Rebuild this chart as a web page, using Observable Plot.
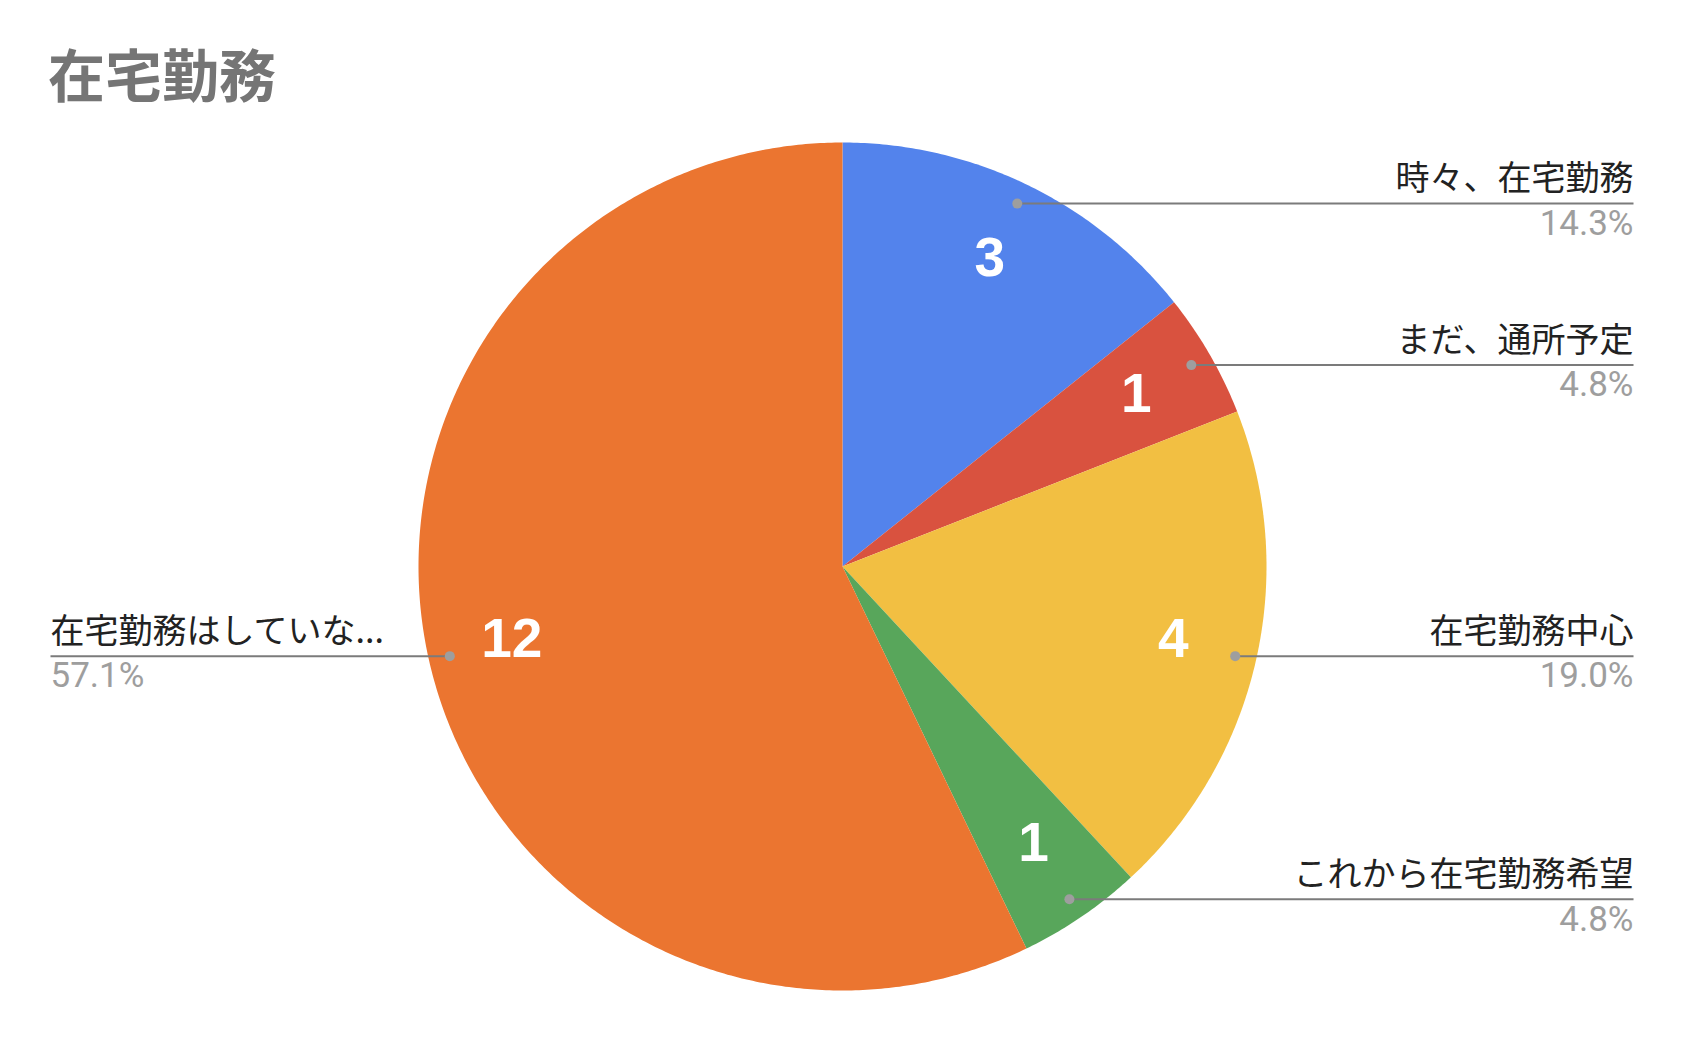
<!DOCTYPE html>
<html><head><meta charset="utf-8">
<script src="https://cdn.jsdelivr.net/npm/d3@7"></script>
<script src="https://cdn.jsdelivr.net/npm/@observablehq/plot@0.6"></script>
<style>
body{margin:0;background:#fff;}
#title{height:120px;box-sizing:border-box;padding-left:48px;padding-top:44px;font-family:"Noto Sans CJK JP";font-weight:bold;font-size:57px;color:#757575;line-height:1;white-space:nowrap;}
#chart svg{display:block;}
</style></head><body>
<div id="title">在宅勤務</div>
<div id="chart"></div>
<script>
// ---- data ----
const categories = ["時々、在宅勤務", "まだ、通所予定", "在宅勤務中心", "これから在宅勤務希望", "在宅勤務はしていな..."];
const values = [3, 1, 4, 1, 12];
const colors = ["#5383EC", "#D9523F", "#F2BF42", "#58A65B", "#EB7530"];

// ---- layout constants ----
const W = 1684, H = 920;
const cx = 842, R = 424;            // pie centre x (page) and radius in px
const leftEdge = 50, rightEdge = 1633;
const marginTop = 22, marginBottom = H - (marginTop + 2 * R);
const xMin = (leftEdge - cx) / R, xMax = (rightEdge - cx) / R;

const total = d3.sum(values);
const arcs = d3.pie().sort(null).value(d => d)(values);

// slice polygons in unit-radius coordinates (y up)
const slicePts = [];
arcs.forEach((a, i) => {
  slicePts.push({cat: categories[i], x: 0, y: 0});
  const n = Math.max(2, Math.ceil((a.endAngle - a.startAngle) / (Math.PI / 360)));
  for (let k = 0; k <= n; k++) {
    const t = a.startAngle + (a.endAngle - a.startAngle) * k / n;
    slicePts.push({cat: categories[i], x: Math.sin(t), y: Math.cos(t)});
  }
});

const info = arcs.map((a, i) => {
  const mid = (a.startAngle + a.endAngle) / 2;
  const dx = 0.95 * Math.sin(mid), dy = 0.95 * Math.cos(mid);
  const right = dx >= 0;
  return {
    cat: categories[i],
    value: values[i],
    pct: d3.format(".1%")(values[i] / total),
    vx: 0.8 * Math.sin(mid), vy: 0.8 * Math.cos(mid),
    dx, dy,
    right,
    lx: right ? xMax : xMin
  };
});
const rightInfo = info.filter(d => d.right), leftInfo = info.filter(d => !d.right);

const labelFont = "Noto Sans CJK JP";
const chart = Plot.plot({
  width: W, height: H,
  marginLeft: leftEdge, marginRight: W - rightEdge,
  marginTop, marginBottom,
  x: {domain: [xMin, xMax], axis: null},
  y: {domain: [-1, 1], axis: null},
  color: {domain: categories, range: colors},
  style: {background: "white", overflow: "visible"},
  marks: [
    Plot.line(slicePts, {x: "x", y: "y", z: "cat", fill: "cat", stroke: "none", curve: "linear-closed"}),
    Plot.link(info, {x1: "dx", x2: "lx", y1: "dy", y2: "dy", stroke: "#7b7b7b", strokeWidth: 2}),
    Plot.dot(info, {x: "dx", y: "dy", r: 5, fill: "#9e9e9e", stroke: "none"}),
    Plot.text(info, {x: "vx", y: "vy", text: d => String(d.value), dy: -3, fill: "white", fontSize: 55, fontWeight: "bold", fontFamily: "Liberation Sans, Arial, sans-serif", textAnchor: "middle", lineAnchor: "middle"}),
    Plot.text(rightInfo, {x: "lx", y: "dy", text: "cat", textAnchor: "end", lineAnchor: "middle", dy: -24, fontSize: 34, fill: "#222", fontFamily: labelFont}),
    Plot.text(leftInfo, {x: "lx", y: "dy", text: "cat", textAnchor: "start", lineAnchor: "middle", dy: -24, fontSize: 34, fill: "#222", fontFamily: labelFont}),
    Plot.text(rightInfo, {x: "lx", y: "dy", text: "pct", textAnchor: "end", lineAnchor: "middle", dy: 20, fontSize: 35, fill: "#9e9e9e", fontFamily: "Roboto, sans-serif"}),
    Plot.text(leftInfo, {x: "lx", y: "dy", text: "pct", textAnchor: "start", lineAnchor: "middle", dy: 20, fontSize: 35, fill: "#9e9e9e", fontFamily: "Roboto, sans-serif"})
  ]
});
document.getElementById("chart").appendChild(chart);
</script>
</body></html>
